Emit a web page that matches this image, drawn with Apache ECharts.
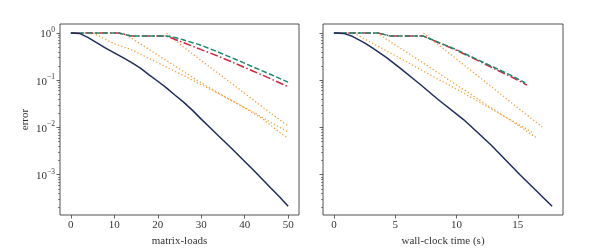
<!DOCTYPE html>
<html><head><meta charset="utf-8">
<script src="https://cdn.jsdelivr.net/npm/echarts@6/dist/echarts.min.js"></script>
<style>html,body{margin:0;padding:0;background:#fff}#c{width:599px;height:252px}</style>
</head><body><div id="c"></div>
<script>
// ---------- left panel: x = matrix-loads ----------
const loadsBlue = [0,2,4,6,8,10,12,14,16,18,20,22,24,26,28,30,32,34,36,38,40,42,44,46,48,50];
const errBlue   = [1,0.98,0.80,0.62,0.48,0.38,0.30,0.235,0.18,0.13,0.095,0.069,0.048,0.034,0.023,0.015,0.010,0.0066,0.0044,0.0029,0.0019,0.00126,0.00081,0.00052,0.00034,0.000215];
const loadsRed  = [0,11,14,22,26,30,34,38,42,46,50];
const errRed    = [1,1,0.86,0.86,0.62,0.445,0.32,0.224,0.155,0.107,0.073];
const loadsGreen= [0,11,14,22,24,26,30,34,38,42,46,50];
const errGreen  = [1,1,0.86,0.86,0.80,0.71,0.55,0.39,0.275,0.19,0.132,0.091];
const loadsOrA  = [5,10,14,18,22,26,30,34,38,42,46,50];
const errOrA    = [1,0.59,0.44,0.29,0.19,0.125,0.080,0.052,0.033,0.021,0.0128,0.0080];
const loadsOrB  = [12,16,20,24,28,32,36,40,44,48,50];
const errOrB    = [1,0.59,0.34,0.20,0.115,0.068,0.042,0.026,0.0155,0.0079,0.0059];
const loadsOrC  = [22,26,30,34,38,42,46,50];
const errOrC    = [1,0.50,0.26,0.138,0.073,0.038,0.020,0.0107];

// ---------- right panel: x = wall-clock time (s) ----------
const timeBlue  = [0,0.8,1.5,2.5,3.2,4.3,5.4,7,8.5,10.6,12.8,15.2,17.8];
const tErrBlue  = [1,0.98,0.85,0.62,0.47,0.30,0.18,0.083,0.039,0.0145,0.0043,0.00098,0.000214];
const timeRed   = [0,3.6,4.6,7.3,8.5,10,11.5,13,14.5,15.75];
const tErrRed   = [1,1,0.86,0.86,0.63,0.43,0.28,0.18,0.117,0.079];
const timeGreen = [0,3.6,4.6,7.3,8.5,10,11.5,13,14.5,15.6];
const tErrGreen = [1,1,0.86,0.86,0.64,0.44,0.29,0.19,0.125,0.088];
const timeOrA   = [1.6,4,6,8,10,12,14,16.2];
const tErrOrA   = [1,0.46,0.24,0.123,0.065,0.033,0.0166,0.0078];
const timeOrB   = [3.5,5,7,9,11,13,15,16.6];
const tErrOrB   = [1,0.56,0.26,0.117,0.054,0.0245,0.0112,0.0059];
const timeOrC   = [7.3,9,11,13,15,17];
const tErrOrC   = [1,0.45,0.175,0.068,0.026,0.0102];

// ---------- ticks ----------
const xTicksLeft  = [0,10,20,30,40,50];
const xTicksRight = [0,5,10,15];
const yMajor = [0.001,0.01,0.1,1];
const yMinor = [];
for (const d of [1e-4,1e-3,1e-2,1e-1]) for (let m=2;m<=9;m++) yMinor.push(+(m*d).toPrecision(3));

const xTitleLeft = 'matrix-loads';
const xTitleRight = 'wall-clock time (s)';
const yTitle = 'error';

const C = {blue:'#1f2d5c', red:'#d2263f', green:'#1b8a6a', orange:'#f6a03c', axis:'#3c3c3c', text:'#333'};
const FONT = 'Liberation Serif';
const YMIN = 1.4e-4, YMAX = 1.55;

const zip = (xs, ys) => xs.map((x,i)=>[x, ys[i]]);

function xAxisDef(gi, min, max, ticks, title){
  return {type:'value', gridIndex:gi, min, max, position:'bottom',
    axisLine:{show:false, onZero:false}, splitLine:{show:false},
    axisTick:{show:true, inside:false, length:3.5, lineStyle:{color:C.axis,width:0.8}, customValues:ticks},
    axisLabel:{show:true, margin:5, fontFamily:FONT, fontSize:11, color:C.text, customValues:ticks},
    name:title, nameLocation:'middle', nameGap:16, nameTextStyle:{fontFamily:FONT, fontSize:11, color:C.text}};
}
function yAxisMain(gi, showLabels, title){
  return {type:'log', logBase:10, gridIndex:gi, min:YMIN, max:YMAX, position:'left',
    axisLine:{show:false, onZero:false}, splitLine:{show:false}, minorTick:{show:false},
    axisTick:{show:true, inside:false, length:3.5, lineStyle:{color:C.axis,width:0.8}, customValues:yMajor},
    axisLabel:{show:showLabels, margin:5, customValues:yMajor,
      formatter:(v)=>{const n=Math.round(Math.log10(v)); return '{b|10}{s|'+(n<0?'\u2212'+(-n):n)+'}';},
      rich:{b:{fontFamily:FONT,fontSize:11,color:C.text,verticalAlign:'bottom'},
            s:{fontFamily:FONT,fontSize:7.5,color:C.text,verticalAlign:'top',padding:[0,0,6,0]}}},
    name:title, nameLocation:'middle', nameGap:29, nameRotate:90,
    nameTextStyle:{fontFamily:FONT, fontSize:11, color:C.text}};
}
function yAxisMinor(gi){
  return {type:'log', logBase:10, gridIndex:gi, min:YMIN, max:YMAX, position:'left',
    axisLine:{show:false, onZero:false}, splitLine:{show:false}, axisLabel:{show:false},
    axisTick:{show:true, inside:false, length:2, lineStyle:{color:C.axis,width:0.6}, customValues:yMinor}};
}
function lines(xi, yi, sets){
  return sets.map(s=>({type:'line', xAxisIndex:xi, yAxisIndex:yi, data:zip(s.x,s.y),
    symbol:'none', silent:true, z:s.z, lineStyle:{color:s.c, width:s.w, type:s.t, cap:'butt'}}));
}
const DOT=[1.3,2.2], DASH=[5.5,2.4], DASHDOT=[8,2.4,1.5,2.4];

const chart = echarts.init(document.getElementById('c'), null, {renderer:'canvas'});
chart.setOption({
  animation:false, backgroundColor:'#fff',
  grid:[
    {left:60, top:24, width:239, height:191, show:true, borderColor:C.axis, borderWidth:0.9, backgroundColor:'transparent'},
    {left:323, top:24, width:240, height:191, show:true, borderColor:C.axis, borderWidth:0.9, backgroundColor:'transparent'}
  ],
  xAxis:[ xAxisDef(0,-2.5,52.5,xTicksLeft,xTitleLeft), xAxisDef(1,-0.89,18.69,xTicksRight,xTitleRight) ],
  yAxis:[ yAxisMain(0,true,yTitle), yAxisMinor(0), yAxisMain(1,false,''), yAxisMinor(1) ],
  series:[
    ...lines(0,0,[
      {x:loadsOrA,y:errOrA,c:C.orange,w:1.3,t:DOT,z:2},
      {x:loadsOrB,y:errOrB,c:C.orange,w:1.3,t:DOT,z:2},
      {x:loadsOrC,y:errOrC,c:C.orange,w:1.3,t:DOT,z:2},
      {x:loadsRed,y:errRed,c:C.red,w:1.5,t:DASHDOT,z:3},
      {x:loadsGreen,y:errGreen,c:C.green,w:1.5,t:DASH,z:4},
      {x:loadsBlue,y:errBlue,c:C.blue,w:1.5,t:'solid',z:5}
    ]),
    ...lines(1,2,[
      {x:timeOrA,y:tErrOrA,c:C.orange,w:1.3,t:DOT,z:2},
      {x:timeOrB,y:tErrOrB,c:C.orange,w:1.3,t:DOT,z:2},
      {x:timeOrC,y:tErrOrC,c:C.orange,w:1.3,t:DOT,z:2},
      {x:timeRed,y:tErrRed,c:C.red,w:1.5,t:DASHDOT,z:3},
      {x:timeGreen,y:tErrGreen,c:C.green,w:1.5,t:DASH,z:4},
      {x:timeBlue,y:tErrBlue,c:C.blue,w:1.5,t:'solid',z:5}
    ])
  ]
});
</script></body></html>
